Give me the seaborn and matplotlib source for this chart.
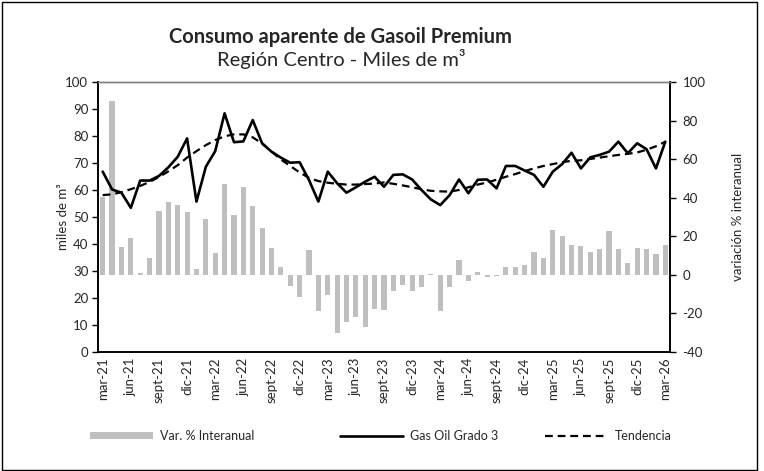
import matplotlib
matplotlib.use("Agg")
import matplotlib.pyplot as plt
from matplotlib.patches import Patch, Rectangle
from matplotlib.lines import Line2D
import numpy as np
import pandas as pd
import seaborn as sns

# Consumo mensual (miles de m3), mar-21 a mar-26
consumo = [66.8, 60.2, 59.0, 53.4, 63.5, 63.5, 65.2, 68.4, 72.3, 79.1,
           55.7, 68.6, 74.4, 88.4, 77.7, 78.0, 85.9, 77.3, 74.2, 72.0,
           70.1, 70.3, 63.7, 55.7, 66.8, 62.5, 59.0, 61.0, 63.1, 64.9,
           61.2, 65.6, 65.8, 63.9, 60.0, 56.5, 54.4, 58.1, 63.9, 58.8,
           63.8, 63.9, 60.6, 68.9, 68.9, 67.2, 65.6, 61.2, 66.8, 69.6,
           73.8, 68.0, 72.1, 73.0, 74.2, 77.9, 73.6, 77.3, 75.1, 68.0,
           77.9]

# Tendencia del consumo (miles de m3)
tendencia = [58.1, 58.4, 59.2, 60.3, 61.5, 63.0, 64.8, 66.9, 69.2, 72.0,
             74.4, 76.6, 78.5, 79.9, 80.6, 80.6, 79.5, 77.2, 74.3, 71.3,
             68.9, 66.5, 64.5, 63.3, 62.7, 62.3, 62.0, 62.0, 62.2, 62.4,
             62.8, 62.3, 61.7, 61.0, 60.3, 59.7, 59.5, 59.4, 60.0, 61.0,
             62.0, 62.8, 63.8, 64.9, 65.9, 67.0, 68.0, 68.9, 69.6, 70.3,
             70.8, 71.0, 71.5, 72.0, 72.5, 73.0, 73.4, 73.9, 74.9, 76.2,
             77.9]

# Variacion % interanual
variacion = [40.3, 89.9, 14.7, 19.0, 0.9, 9.0, 33.2, 38.0, 36.3, 32.5,
             2.9, 29.0, 11.2, 47.0, 30.8, 45.8, 35.8, 24.2, 14.0, 4.0,
             -6.0, -11.6, 13.0, -18.7, -10.4, -29.9, -24.2, -22.1, -26.8, -17.8,
             -18.1, -8.6, -5.5, -8.6, -6.4, 0.5, -18.7, -6.4, 7.8, -3.1,
             1.7, -1.2, -0.6, 4.0, 4.0, 5.2, 11.8, 9.0, 23.3, 20.2,
             15.7, 15.0, 11.8, 13.5, 22.5, 13.5, 6.4, 14.0, 13.5, 10.9,
             15.7]

etiquetas = ["mar-21", "jun-21", "sept-21", "dic-21",
             "mar-22", "jun-22", "sept-22", "dic-22",
             "mar-23", "jun-23", "sept-23", "dic-23",
             "mar-24", "jun-24", "sept-24", "dic-24",
             "mar-25", "jun-25", "sept-25", "dic-25",
             "mar-26"]

df = pd.DataFrame({
    "pos": np.arange(len(consumo)),
    "consumo": consumo,
    "tendencia": tendencia,
    "variacion": variacion,
})

sns.set_theme(style="white")
plt.rcParams["font.family"] = ["Lato", "DejaVu Sans"]
plt.rcParams["axes.unicode_minus"] = False

W, H = 764, 471
fig = plt.figure(figsize=(W / 100, H / 100), dpi=100)
fig.patch.set_facecolor("white")

ax = fig.add_axes([98 / W, 1 - 352 / H, 572 / W, 270 / H])
ax2 = ax.twinx()

bar_color = "#bfbfbf"
sns.barplot(data=df, x="pos", y="variacion", ax=ax2, color=bar_color,
            width=0.55, native_scale=True, saturation=1, edgecolor="none")
sns.lineplot(data=df, x="pos", y="consumo", ax=ax, color="black", lw=1.9)
sns.lineplot(data=df, x="pos", y="tendencia", ax=ax, color="black", lw=1.6,
             linestyle=(0, (3.5, 2.2)))

ax.set_zorder(ax2.get_zorder() + 1)
ax.patch.set_visible(False)

n = len(consumo)
ax.set_xlim(-0.5, n - 0.5)
ax.set_ylim(0, 100)
ax2.set_ylim(-40, 100)
ax.set_yticks(np.arange(0, 101, 10))
ax2.set_yticks(np.arange(-40, 101, 20))

# etiquetas cada tres meses, marcas en los bordes de cada trimestre
ax.set_xticks(np.arange(0, n, 3))
ax.set_xticklabels(etiquetas, rotation=90)
ax.set_xticks(np.arange(-0.5, n, 3), minor=True)
ax.tick_params(axis="x", which="major", length=0, pad=4, labelsize=9.5)
ax.tick_params(axis="x", which="minor", length=5, width=1, color="black",
               direction="out")
ax.tick_params(axis="y", length=4, width=1, color="black", direction="out",
               labelsize=9.5, pad=3)
ax2.tick_params(axis="y", length=4, width=1, color="black", direction="out",
                labelsize=9.5, pad=5)
ax2.tick_params(axis="x", length=0)

ax.set_xlabel("")
ax2.set_xlabel("")
ax.set_ylabel("miles de m³", fontsize=9.5, labelpad=-3)
ax2.set_ylabel("variación % interanual", fontsize=9.5, labelpad=19)

for a in (ax, ax2):
    for side in ("left", "bottom", "right"):
        a.spines[side].set_color("black")
        a.spines[side].set_linewidth(1.2)
    a.spines["top"].set_color("#808080")
    a.spines["top"].set_linewidth(1.0)

fig.text(340 / W, 1 - 37 / H, "Consumo aparente de Gasoil Premium",
         ha="center", va="center", fontsize=14.5, fontweight="bold")
fig.text(341 / W, 1 - 59 / H, "Región Centro - Miles de m³",
         ha="center", va="center", fontsize=14.5)

# leyenda inferior
ly = 1 - 436 / H
handles = [
    (Patch(facecolor=bar_color, edgecolor="none"), "Var. % Interanual", 90),
    (Line2D([], [], color="black", lw=1.9), "Gas Oil Grado 3", 340),
    (Line2D([], [], color="black", lw=1.6, linestyle=(0, (3.5, 2.2))), "Tendencia", 545),
]
for h, lab, xpx in handles:
    fig.legend(handles=[h], labels=[lab], loc="center left",
               bbox_to_anchor=(xpx / W, ly), frameon=False, fontsize=9,
               handlelength=5.0, handleheight=0.45, handletextpad=0.6,
               borderpad=0, borderaxespad=0)

fig.add_artist(Rectangle((1.5 / W, 1.5 / H), (757 - 1.5) / W, (H - 3) / H,
                         transform=fig.transFigure, fill=False,
                         edgecolor="black", lw=1))

fig.savefig("out.png", dpi=100)
